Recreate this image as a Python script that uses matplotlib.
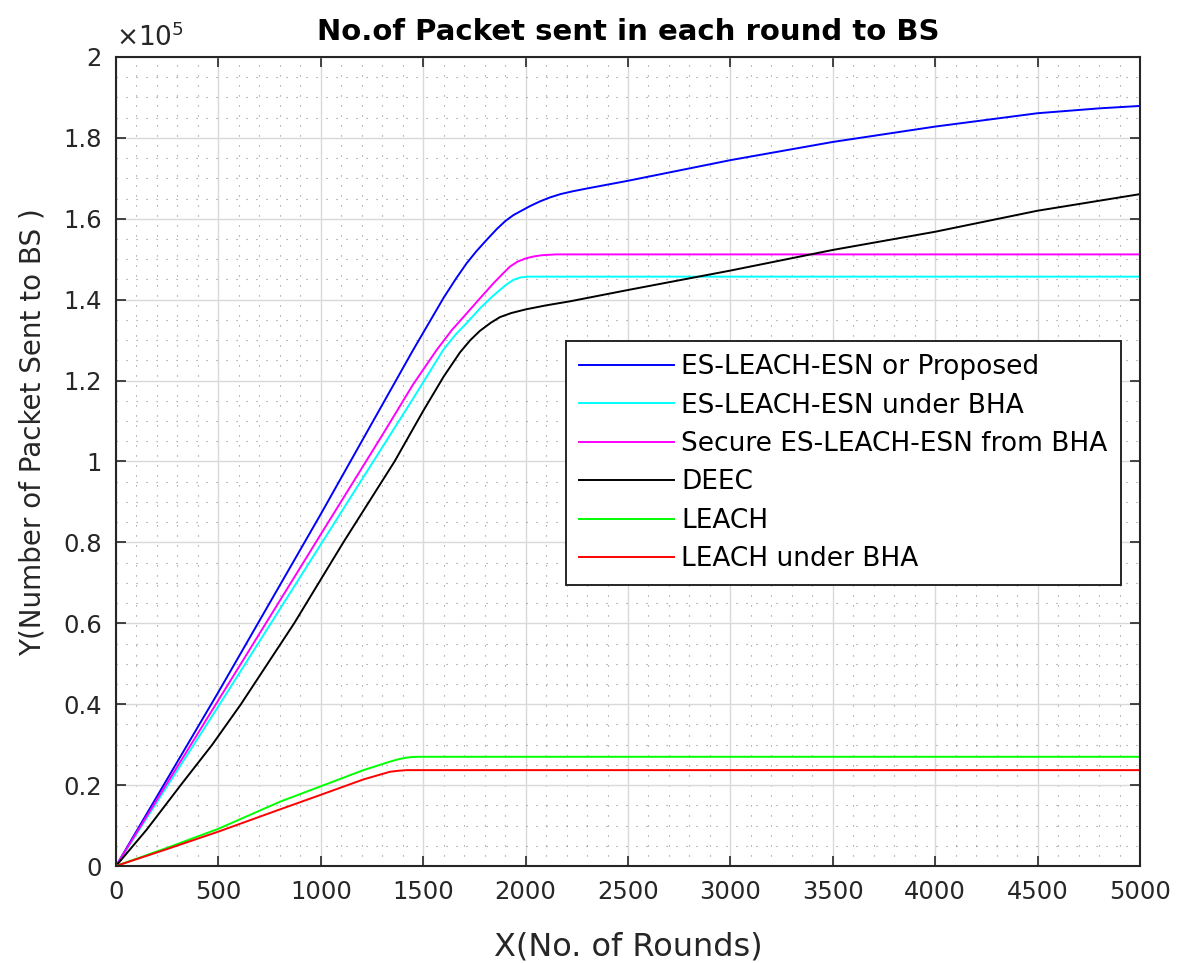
import matplotlib
matplotlib.use("Agg")
import matplotlib.pyplot as plt
from matplotlib.ticker import MultipleLocator, FuncFormatter
import numpy as np

# rounds / packets (x1e5) for each protocol
rounds_prop = [0, 500, 1000, 1300, 1450, 1600, 1660, 1712, 1760, 1810, 1860, 1900, 1940,
               1980, 2020, 2070, 2120, 2170, 2230, 2300, 2500, 3000, 3500, 4000, 4500, 4800, 5000]
pkts_prop = [0, 0.43, 0.87, 1.14, 1.275, 1.405, 1.452, 1.49, 1.52, 1.548, 1.575, 1.594, 1.609,
             1.62, 1.631, 1.643, 1.653, 1.661, 1.668, 1.675, 1.694, 1.745, 1.79, 1.828, 1.861, 1.873, 1.879]

rounds_bha = [0, 500, 1000, 1300, 1450, 1598, 1660, 1712, 1780, 1842, 1900, 1940, 1975, 2010, 5000]
pkts_bha = [0, 0.395, 0.795, 1.035, 1.155, 1.276, 1.315, 1.342, 1.38, 1.41, 1.435, 1.449, 1.455, 1.457, 1.457]

rounds_sec = [0, 500, 1000, 1300, 1450, 1566, 1640, 1712, 1780, 1842, 1890, 1924, 1960,
              2000, 2040, 2080, 2150, 5000]
pkts_sec = [0, 0.41, 0.82, 1.065, 1.19, 1.276, 1.325, 1.366, 1.405, 1.44, 1.465, 1.482, 1.494,
            1.502, 1.507, 1.51, 1.512, 1.512]

rounds_deec = [0, 150, 316, 470, 610, 740, 870, 1110, 1360, 1500, 1600, 1680, 1730, 1777, 1830,
               1875, 1930, 2000, 2100, 2217, 2500, 3000, 3500, 4000, 4500, 5000]
pkts_deec = [0, 0.09, 0.2, 0.3, 0.4, 0.5, 0.6, 0.8, 1.0, 1.125, 1.21, 1.27, 1.3, 1.323, 1.343,
             1.357, 1.367, 1.376, 1.386, 1.396, 1.424, 1.472, 1.523, 1.568, 1.62, 1.661]

rounds_leach = [0, 250, 500, 801, 1000, 1208, 1338, 1380, 1419, 1450, 1480, 5000]
pkts_leach = [0, 0.045, 0.092, 0.159, 0.197, 0.237, 0.258, 0.264, 0.268, 0.2695, 0.27, 0.27]

rounds_leach_bha = [0, 250, 500, 801, 1000, 1208, 1338, 1380, 1419, 1480, 5000]
pkts_leach_bha = [0, 0.042, 0.085, 0.14, 0.176, 0.214, 0.233, 0.2355, 0.237, 0.237, 0.237]

series = [
    (rounds_prop, pkts_prop, '#0000ff', 'ES-LEACH-ESN or Proposed'),
    (rounds_bha, pkts_bha, '#00ffff', 'ES-LEACH-ESN under BHA'),
    (rounds_sec, pkts_sec, '#ff00ff', 'Secure ES-LEACH-ESN from BHA'),
    (rounds_deec, pkts_deec, '#000000', 'DEEC'),
    (rounds_leach, pkts_leach, '#00ff00', 'LEACH'),
    (rounds_leach_bha, pkts_leach_bha, '#ff0000', 'LEACH under BHA'),
]

plt.rcParams['font.family'] = 'DejaVu Sans'
plt.rcParams['mathtext.default'] = 'regular'
gray = '#262626'

fig = plt.figure(figsize=(11.77, 9.63), dpi=100)
ax = fig.add_axes([116 / 1177, 97 / 963, 1024 / 1177, 809 / 963])

for x, y, c, lab in series:
    ax.plot(np.array(x), np.array(y), color=c, lw=1.4, label=lab)

ax.set_xlim(0, 5000)
ax.set_ylim(0, 2)
ax.xaxis.set_major_locator(MultipleLocator(500))
ax.xaxis.set_minor_locator(MultipleLocator(100))
ax.yaxis.set_major_locator(MultipleLocator(0.2))
ax.yaxis.set_minor_locator(MultipleLocator(0.05))
ax.yaxis.set_major_formatter(FuncFormatter(lambda v, p: '%g' % round(v, 2)))

ax.grid(which='major', color='#d9d9d9', lw=1.0)
ax.grid(which='minor', color='#8c8c8c', lw=0.8, linestyle=(0, (1, 8)))
ax.set_axisbelow(True)

ax.tick_params(which='major', direction='in', top=True, right=True, length=7,
               width=1.2, colors=gray, labelsize=17.5, pad=10)
ax.tick_params(which='minor', length=0)
for s in ax.spines.values():
    s.set_color(gray)
    s.set_linewidth(1.5)

ax.set_xlabel('X(No. of Rounds)', fontsize=23, color=gray, labelpad=20)
ax.set_ylabel('Y(Number of Packet Sent to BS )', fontsize=20, color=gray)
ax.yaxis.set_label_coords(-0.068, 0.536)
ax.set_title('No.of Packet sent in each round to BS', fontsize=21, fontweight='bold', pad=12)
ax.text(0.0, 1.006, r'$\times 10^{5}$', transform=ax.transAxes, ha='left', va='bottom',
        fontsize=19, color=gray)

leg = ax.legend(loc='upper left', bbox_to_anchor=(0.4395, 0.649), borderaxespad=0,
                fontsize=19, fancybox=False, framealpha=1, edgecolor=gray,
                handlelength=3.6, handletextpad=0.27, labelspacing=0.47, borderpad=0.5)
leg.get_frame().set_linewidth(1.4)

fig.savefig('out.png', dpi=100)
